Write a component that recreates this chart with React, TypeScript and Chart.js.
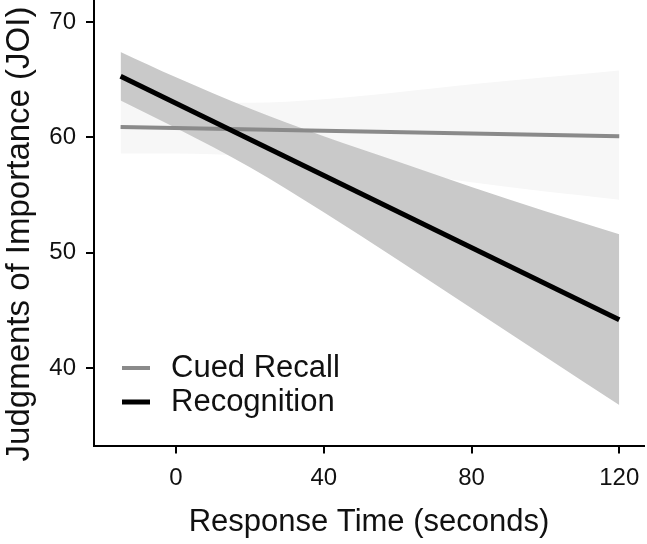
import React, { useEffect, useRef } from 'react';
import { Chart, registerables } from 'chart.js';

Chart.register(...registerables);

// Series names (legend order)
const SERIES = ['Cued Recall', 'Recognition'];

// Fitted regression lines: endpoints over the observed response-time range
const LINE_X = [-15, 120];
const CUED_LINE = [60.9, 60.1];
const RECOG_LINE = [65.3, 44.2];

// Confidence bands around each fit
const BAND_X = [-15, 0, 20, 40, 60, 80, 100, 120];
const CUED_UPPER = [63.2, 63.0, 63.0, 63.3, 63.9, 64.6, 65.2, 65.8];
const CUED_LOWER = [58.6, 58.6, 58.4, 57.9, 57.0, 56.1, 55.3, 54.6];
const RECOG_UPPER = [67.4, 65.2, 62.5, 60.1, 57.9, 55.7, 53.6, 51.6];
const RECOG_LOWER = [63.2, 60.8, 57.4, 53.5, 49.4, 45.2, 41.0, 36.8];

// Axes
const X_TICKS = [0, 40, 80, 120];
const Y_TICKS = [40, 50, 60, 70];
const X_RANGE = [-22.2, 126.7];
const Y_RANGE = [33.3, 71.9];
const X_TITLE = 'Response Time (seconds)';
const Y_TITLE = 'Judgments of Importance (JOI)';

const FONT = '"Liberation Sans", Arial, Helvetica, sans-serif';
const TEXT = '#111111';
const CUED_COLOR = '#8a8a8a';
const RECOG_COLOR = '#000000';
const CUED_BAND = '#f7f7f7';
const RECOG_BAND = '#c9c9c9';

const pts = (xs: number[], ys: number[]) => xs.map((x, i) => ({ x, y: ys[i] }));

// Legend drawn inside the plot panel, bottom-left, with line keys
const lineLegend = {
  id: 'lineLegend',
  afterDatasetsDraw(chart: any) {
    const { ctx, chartArea } = chart;
    ctx.save();
    ctx.font = `31px ${FONT}`;
    ctx.textBaseline = 'middle';
    ctx.textAlign = 'left';
    SERIES.forEach((name, i) => {
      const ds = chart.data.datasets.find((d: any) => d.label === name);
      if (!ds) return;
      const y = chartArea.bottom - 77.5 + i * 34;
      ctx.strokeStyle = ds.borderColor;
      ctx.lineWidth = ds.borderWidth;
      ctx.lineCap = 'butt';
      ctx.beginPath();
      ctx.moveTo(chartArea.left + 28, y);
      ctx.lineTo(chartArea.left + 56, y);
      ctx.stroke();
      ctx.fillStyle = TEXT;
      ctx.fillText(name, chartArea.left + 77, y);
    });
    ctx.restore();
  },
};

// Vertical axis title, centred on the full figure height
const yAxisTitle = {
  id: 'yAxisTitle',
  afterDraw(chart: any) {
    const { ctx } = chart;
    ctx.save();
    ctx.font = `33px ${FONT}`;
    ctx.fillStyle = TEXT;
    ctx.textAlign = 'center';
    ctx.textBaseline = 'alphabetic';
    ctx.translate(29, 234);
    ctx.rotate(-Math.PI / 2);
    ctx.fillText(Y_TITLE, 0, 0);
    ctx.restore();
  },
};

export default function App() {
  const canvasRef = useRef<HTMLCanvasElement>(null);

  useEffect(() => {
    if (!canvasRef.current) return;
    Chart.defaults.font.family = FONT;

    const band = (data: any[], color: string, fill: any, order: number) => ({
      label: '',
      data,
      borderColor: 'transparent',
      borderWidth: 0,
      backgroundColor: color,
      pointRadius: 0,
      fill,
      order,
      cubicInterpolationMode: 'monotone',
    });

    const axisGrid = {
      display: true,
      drawOnChartArea: false,
      drawTicks: true,
      tickLength: 8,
      tickWidth: 2,
      tickColor: '#000',
      lineWidth: 2,
      color: '#000',
    };

    const chart = new Chart(canvasRef.current, {
      type: 'line',
      data: {
        datasets: [
          band(pts(BAND_X, CUED_UPPER), CUED_BAND, '+1', 4),
          band(pts(BAND_X, CUED_LOWER), CUED_BAND, false, 4),
          band(pts(BAND_X, RECOG_UPPER), RECOG_BAND, '+1', 3),
          band(pts(BAND_X, RECOG_LOWER), RECOG_BAND, false, 3),
          {
            label: SERIES[0],
            data: pts(LINE_X, CUED_LINE),
            borderColor: CUED_COLOR,
            borderWidth: 4,
            pointRadius: 0,
            fill: false,
            order: 2,
          },
          {
            label: SERIES[1],
            data: pts(LINE_X, RECOG_LINE),
            borderColor: RECOG_COLOR,
            borderWidth: 5,
            pointRadius: 0,
            fill: false,
            order: 1,
          },
        ] as any,
      },
      options: {
        animation: false,
        responsive: true,
        maintainAspectRatio: false,
        events: [],
        layout: { padding: { left: 0, top: 0, right: 3, bottom: 0 } },
        plugins: {
          legend: { display: false },
          tooltip: { enabled: false },
        },
        scales: {
          x: {
            type: 'linear',
            position: 'bottom',
            min: X_RANGE[0],
            max: X_RANGE[1],
            afterBuildTicks: (scale: any) => {
              scale.ticks = X_TICKS.map((value) => ({ value }));
            },
            afterFit: (scale: any) => {
              scale.height = 98.5;
              scale.paddingLeft = 0;
              scale.paddingRight = 0;
            },
            grid: axisGrid,
            border: { display: true, color: '#000', width: 2 },
            ticks: {
              font: { size: 24 },
              color: TEXT,
              padding: 10,
              maxRotation: 0,
              autoSkip: false,
            },
            title: {
              display: true,
              text: X_TITLE,
              font: { size: 31 },
              color: TEXT,
              padding: { top: 0, bottom: 3 },
            },
          },
          y: {
            type: 'linear',
            position: 'left',
            min: Y_RANGE[0],
            max: Y_RANGE[1],
            afterBuildTicks: (scale: any) => {
              scale.ticks = Y_TICKS.map((value) => ({ value }));
            },
            afterFit: (scale: any) => {
              scale.width = 94;
              scale.paddingTop = 0;
              scale.paddingBottom = 0;
            },
            grid: axisGrid,
            border: { display: true, color: '#000', width: 2 },
            ticks: {
              font: { size: 24 },
              color: TEXT,
              padding: 10,
              autoSkip: false,
            },
            title: { display: false },
          },
        },
      } as any,
      plugins: [lineLegend, yAxisTitle],
    });

    return () => chart.destroy();
  }, []);

  return (
    <div style={{ position: 'absolute', left: 0, top: 0, width: 647, height: 544, background: '#fff' }}>
      <canvas ref={canvasRef} />
    </div>
  );
}
